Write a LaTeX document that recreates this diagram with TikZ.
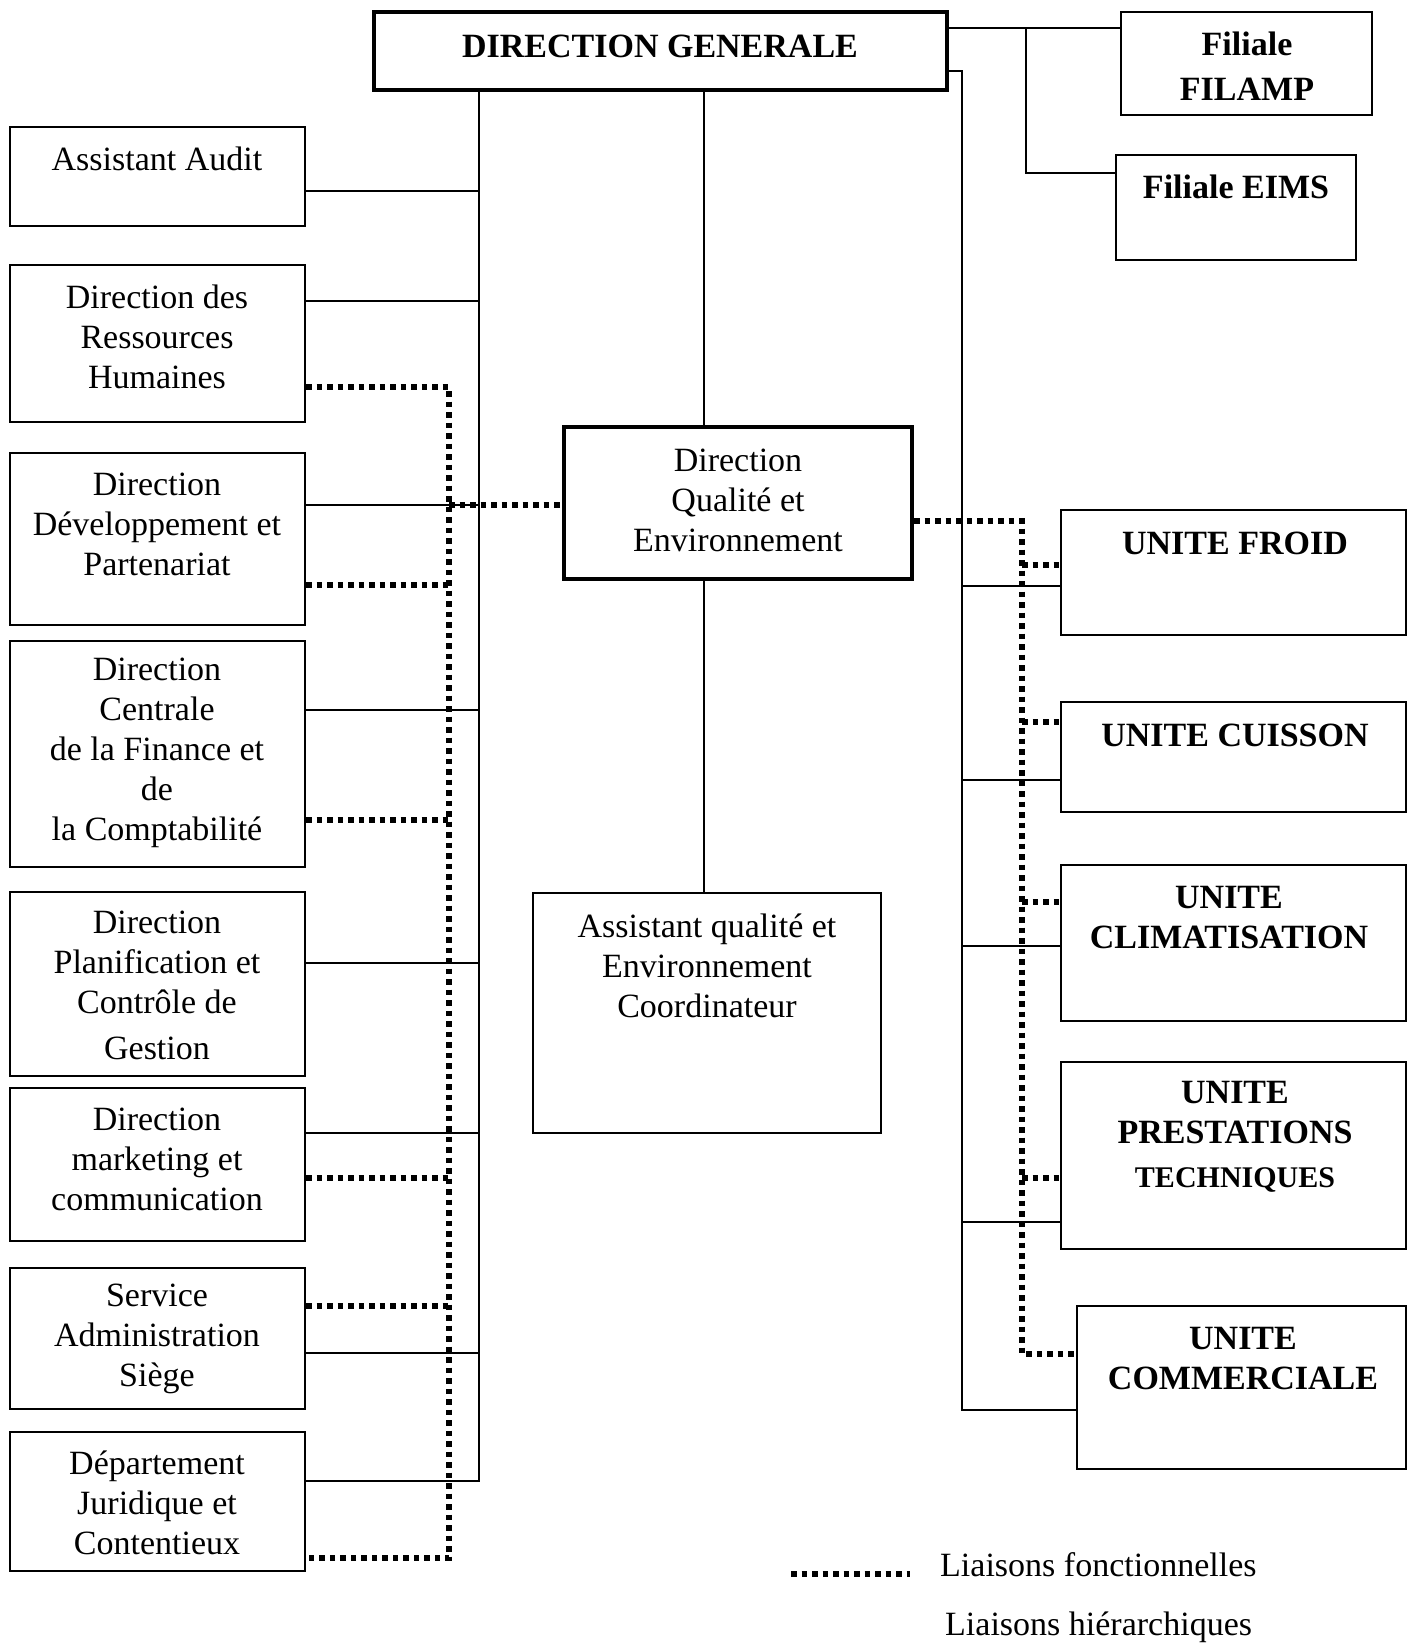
\documentclass[tikz,border=0pt]{standalone}
\usepackage{fontspec}
\setmainfont{Liberation Serif}
\usetikzlibrary{positioning}
\usetikzlibrary{calc}

\begin{document}
\begin{tikzpicture}[
    x=1pt, y=-1pt,
    box/.style={draw, line width=2pt, inner sep=0pt},
    thickbox/.style={draw, line width=4pt, inner sep=0pt},
    txt/.style={align=center, inner sep=0pt, font=\fontsize{34}{40}\selectfont},
    btxt/.style={align=center, inner sep=0pt, font=\fontsize{34}{40}\selectfont\bfseries},
    hier/.style={line width=1.6pt},
    fonc/.style={line width=5.5pt, dash pattern=on 5.5pt off 5pt}
]

    \useasboundingbox (0,0) rectangle (1416,1643);

    % Direction generale and filiales
    \node[thickbox, minimum width=573, minimum height=78] (dg) at (660.5,51) {};
    \node[btxt] (dg-t) at (660,46) {DIRECTION GENERALE};

    \node[box, minimum width=251, minimum height=103] (filamp) at (1246.5,63.5) {};
    \node[btxt, font=\fontsize{34}{45}\selectfont\bfseries] (filamp-t) at (1247,66.5) {Filiale\\FILAMP};

    \node[box, minimum width=240, minimum height=105] (eims) at (1236,207.5) {};
    \node[btxt] (eims-t) at (1236,187) {Filiale EIMS};

    % Left column
    \node[box, minimum width=295, minimum height=99] (audit) at (157.5,176.5) {};
    \node[txt] (audit-t) at (157,159) {Assistant Audit};

    \node[box, minimum width=295, minimum height=157] (drh) at (157.5,343.5) {};
    \node[txt] (drh-t) at (157,336.5) {Direction des\\Ressources\\Humaines};

    \node[box, minimum width=295, minimum height=172] (ddp) at (157.5,539) {};
    \node[txt] (ddp-t) at (157,524) {Direction\\Développement et\\Partenariat};

    \node[box, minimum width=295, minimum height=226] (dcfc) at (157.5,754) {};
    \node[txt] (dcfc-t) at (157,752.5) {Direction\\Centrale\\de la Finance et\\de\\la Comptabilité};

    \node[box, minimum width=295, minimum height=184] (dpcg) at (157.5,984) {};
    \node[txt] (dpcg-t) at (157,985.5) {Direction\\Planification et\\Contrôle de\\[6pt]Gestion};

    \node[box, minimum width=295, minimum height=153] (mkt) at (157.5,1164.5) {};
    \node[txt] (mkt-t) at (157,1159) {Direction\\marketing et\\communication};

    \node[box, minimum width=295, minimum height=141] (sadm) at (157.5,1338.5) {};
    \node[txt] (sadm-t) at (157,1339) {Service\\Administration\\Siège};

    \node[box, minimum width=295, minimum height=139] (jur) at (157.5,1501.5) {};
    \node[txt] (jur-t) at (157,1503) {Département\\Juridique et\\Contentieux};

    % Centre
    \node[thickbox, minimum width=348, minimum height=152] (dqe) at (738,503) {};
    \node[txt] (dqe-t) at (738,500) {Direction\\Qualité et\\Environnement};

    \node[box, minimum width=348, minimum height=240] (aqe) at (707,1013) {};
    \node[txt] (aqe-t) at (707,965.5) {Assistant qualité et\\Environnement\\Coordinateur};

    % Right column
    \node[box, minimum width=345, minimum height=125] (froid) at (1233.5,572.5) {};
    \node[btxt] (froid-t) at (1235,543) {UNITE FROID};

    \node[box, minimum width=345, minimum height=110] (cuisson) at (1233.5,757) {};
    \node[btxt] (cuisson-t) at (1235,735) {UNITE CUISSON};

    \node[box, minimum width=345, minimum height=156] (clim) at (1233.5,943) {};
    \node[btxt] (clim-t) at (1229,917.5) {UNITE\\CLIMATISATION};

    \node[box, minimum width=345, minimum height=187] (prest) at (1233.5,1155.5) {};
    \node[btxt] (prest-t) at (1235,1137) {UNITE\\PRESTATIONS\\[4pt]{\fontsize{30}{36}\selectfont TECHNIQUES}};

    \node[box, minimum width=329, minimum height=163] (comm) at (1241.5,1387.5) {};
    \node[btxt] (comm-t) at (1243,1358.5) {UNITE\\COMMERCIALE};

    % Liaisons hierarchiques
    \coordinate (fk) at (1026,28);
    \draw[hier] (dg.east |- fk) -- (filamp.west |- fk);
    \draw[hier] (fk) |- (eims.west |- 0,173);

    \coordinate (rb) at (962,71);
    \draw[hier] (dg.east |- rb) -- (rb) |- (comm.west |- 0,1410);
    \foreach \n/\y in {froid/586, cuisson/780, clim/946, prest/1222}
        \draw[hier] (962,\y) -- (\n.west |- 0,\y);

    \coordinate (lb) at (dg.south -| 479,0);
    \draw[hier] (lb) |- (jur.east |- 0,1481);
    \foreach \n/\y in {audit/191, drh/301, ddp/505, dcfc/710, dpcg/963, mkt/1133, sadm/1353}
        \draw[hier] (479,\y) -- (\n.east |- 0,\y);

    \coordinate (cx) at (704,0);
    \draw[hier] (dg.south -| cx) -- (dqe.north -| cx);
    \draw[hier] (dqe.south -| cx) -- (aqe.north -| cx);

    % Liaisons fonctionnelles
    \draw[fonc] (drh.east |- 0,387) -| (449,1558) -- (jur.east |- 0,1558);
    \foreach \n/\y in {ddp/585, dcfc/820, mkt/1178, sadm/1306}
        \draw[fonc] (\n.east |- 0,\y) -- (449,\y);
    \draw[fonc] (449,505) -- (dqe.west |- 0,505);

    \draw[fonc] (dqe.east |- 0,521) -| (1022,1354) -- (comm.west |- 0,1354);
    \foreach \n/\y in {froid/565, cuisson/722, clim/902, prest/1178}
        \draw[fonc] (1022,\y) -- (\n.west |- 0,\y);

    % Legend
    \coordinate (lg1) at (791,1574);
    \coordinate (lg2) at (910,1574);
    \draw[fonc] (lg1) -- (lg2);
    \node[txt, anchor=west] (lg-f) at (940,1565) {Liaisons fonctionnelles};
    \node[txt, anchor=west] (lg-h) at (945,1627) {Liaisons hiérarchiques};

\end{tikzpicture}
\end{document}
